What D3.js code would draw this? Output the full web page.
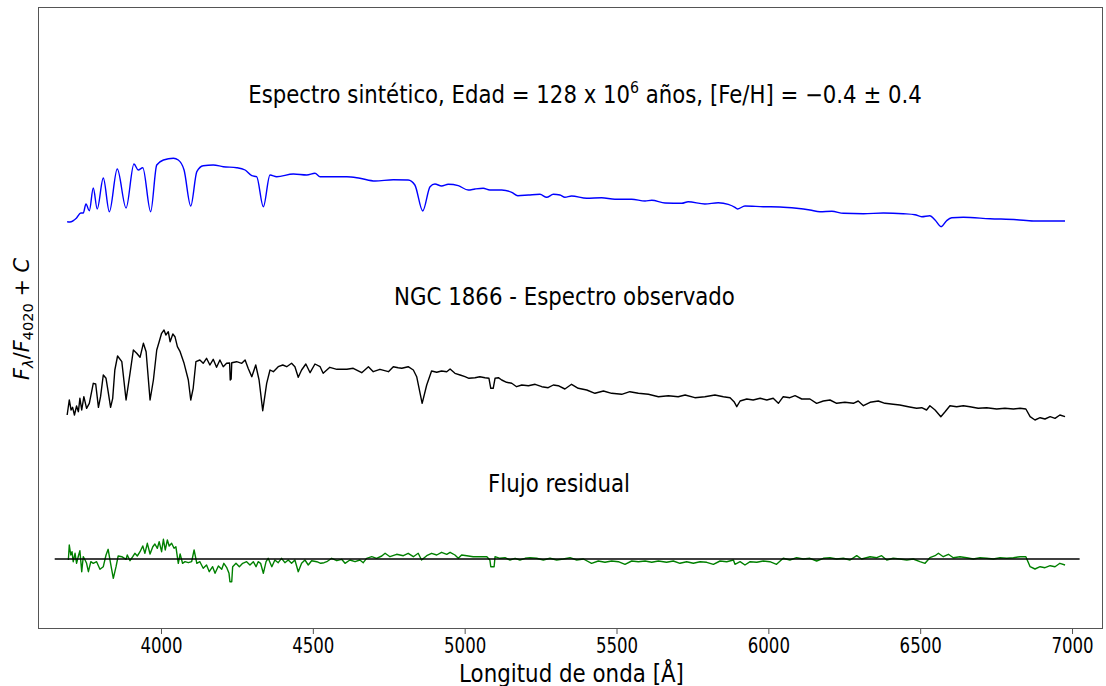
<!DOCTYPE html>
<html>
<head>
<meta charset="utf-8">
<script src="https://cdn.jsdelivr.net/npm/d3@7"></script>
<style>
  html, body { margin: 0; padding: 0; background: #fff; }
  svg { display: block; font-family: "DejaVu Sans", sans-serif; }
</style>
</head>
<body>
<div id="main-container"></div>
<script>
// Spectra: [wavelength (A), F/F4020 + C]
const SYNTH = [[3691,3.373],[3700,3.37],[3722,3.41],[3736,3.46],[3744,3.46],[3753,3.55],[3764,3.483],[3777,3.71],[3790,3.50],[3810,3.81],[3830,3.473],[3856,3.90],[3885,3.51],[3911,3.95],[3925,3.89],[3940,3.913],[3966,3.473],[3986,3.94],[4008,3.99],[4041,4.007],[4057,3.99],[4076,3.89],[4098,3.53],[4118,3.873],[4139,3.933],[4172,3.94],[4205,3.923],[4249,3.913],[4277,3.89],[4299,3.833],[4315,3.823],[4337,3.523],[4359,3.84],[4381,3.823],[4436,3.85],[4480,3.84],[4507,3.857],[4524,3.823],[4567,3.823],[4612,3.823],[4655,3.807],[4705,3.78],[4765,3.793],[4814,3.79],[4836,3.74],[4862,3.48],[4886,3.723],[4902,3.75],[4924,3.73],[4946,3.747],[4979,3.733],[5012,3.69],[5034,3.70],[5061,3.707],[5083,3.69],[5122,3.69],[5155,3.667],[5175,3.633],[5210,3.64],[5248,3.647],[5270,3.617],[5292,3.647],[5314,3.64],[5330,3.617],[5352,3.63],[5402,3.607],[5451,3.613],[5495,3.597],[5550,3.597],[5594,3.58],[5616,3.587],[5660,3.56],[5715,3.557],[5736,3.573],[5791,3.55],[5835,3.563],[5868,3.547],[5890,3.517],[5898,3.50],[5923,3.53],[5983,3.523],[6038,3.52],[6093,3.507],[6137,3.49],[6170,3.473],[6209,3.477],[6247,3.457],[6313,3.453],[6379,3.46],[6444,3.453],[6483,3.443],[6505,3.423],[6532,3.433],[6549,3.39],[6569,3.323],[6587,3.383],[6604,3.413],[6642,3.417],[6730,3.403],[6818,3.393],[6873,3.38],[6977,3.38]];

const OBSERVED = [[3691,1.44],[3698,1.59],[3704,1.49],[3709,1.517],[3715,1.44],[3722,1.53],[3728,1.473],[3733,1.607],[3739,1.49],[3746,1.623],[3755,1.507],[3764,1.557],[3777,1.757],[3785,1.75],[3794,1.517],[3801,1.623],[3810,1.84],[3819,1.807],[3826,1.673],[3834,1.517],[3841,1.607],[3848,1.89],[3857,2.03],[3871,1.973],[3885,1.59],[3898,1.857],[3909,2.09],[3920,2.057],[3931,2.017],[3942,2.157],[3951,2.073],[3964,1.59],[3975,1.79],[3986,2.09],[3994,2.173],[4002,2.257],[4010,2.29],[4016,2.24],[4024,2.273],[4030,2.173],[4039,2.25],[4046,2.223],[4054,2.123],[4063,2.073],[4076,1.957],[4090,1.79],[4098,1.59],[4106,1.707],[4115,1.973],[4128,1.99],[4139,1.957],[4150,2.007],[4161,1.94],[4172,1.997],[4183,1.917],[4194,1.99],[4205,1.923],[4216,1.957],[4226,1.96],[4228,1.79],[4231,1.80],[4233,1.963],[4249,1.973],[4266,1.957],[4277,1.99],[4287,1.907],[4299,1.823],[4312,1.94],[4323,1.79],[4335,1.483],[4348,1.757],[4359,1.89],[4370,1.873],[4386,1.923],[4401,1.94],[4414,1.923],[4430,1.957],[4441,1.923],[4452,1.817],[4463,1.89],[4477,1.95],[4491,1.863],[4507,1.95],[4524,1.923],[4534,1.857],[4556,1.917],[4579,1.897],[4612,1.897],[4633,1.907],[4661,1.863],[4683,1.923],[4699,1.873],[4721,1.897],[4749,1.873],[4765,1.923],[4781,1.913],[4793,1.907],[4814,1.923],[4831,1.89],[4842,1.823],[4860,1.557],[4875,1.74],[4891,1.88],[4908,1.867],[4924,1.88],[4941,1.873],[4952,1.9],[4968,1.857],[4985,1.84],[5001,1.823],[5014,1.807],[5034,1.813],[5050,1.823],[5067,1.813],[5080,1.807],[5086,1.707],[5094,1.707],[5100,1.807],[5111,1.813],[5122,1.79],[5138,1.767],[5155,1.757],[5171,1.723],[5188,1.74],[5210,1.733],[5232,1.747],[5254,1.723],[5275,1.713],[5292,1.74],[5308,1.733],[5330,1.70],[5352,1.747],[5374,1.707],[5402,1.69],[5429,1.657],[5457,1.68],[5484,1.657],[5517,1.647],[5544,1.673],[5572,1.657],[5605,1.647],[5638,1.623],[5671,1.633],[5703,1.623],[5726,1.64],[5758,1.613],[5791,1.623],[5824,1.64],[5852,1.623],[5874,1.613],[5887,1.573],[5896,1.523],[5907,1.58],[5929,1.60],[5950,1.59],[5973,1.607],[5995,1.59],[6016,1.607],[6033,1.557],[6049,1.623],[6071,1.613],[6088,1.633],[6110,1.60],[6137,1.60],[6159,1.557],[6181,1.58],[6203,1.59],[6225,1.557],[6252,1.567],[6280,1.557],[6296,1.58],[6313,1.533],[6335,1.567],[6362,1.58],[6384,1.557],[6411,1.547],[6433,1.54],[6461,1.523],[6488,1.507],[6505,1.513],[6521,1.49],[6532,1.533],[6549,1.49],[6568,1.423],[6582,1.473],[6598,1.533],[6620,1.523],[6642,1.533],[6664,1.523],[6691,1.507],[6719,1.513],[6752,1.50],[6779,1.507],[6807,1.50],[6829,1.507],[6848,1.50],[6862,1.423],[6878,1.39],[6895,1.413],[6911,1.40],[6928,1.423],[6944,1.407],[6960,1.44],[6977,1.423]];

const RESIDUAL = [[3695,-0.01],[3698,0.14],[3703,0.04],[3707,0.073],[3711,-0.027],[3717,0.057],[3722,-0.043],[3728,0.03],[3733,0.083],[3739,-0.127],[3744,0.023],[3750,-0.01],[3755,-0.043],[3761,-0.127],[3769,-0.027],[3777,-0.043],[3788,-0.027],[3799,-0.103],[3810,-0.077],[3819,0.04],[3826,0.097],[3834,-0.043],[3843,-0.193],[3852,-0.077],[3859,0.03],[3871,0.023],[3885,-0.003],[3889,0.04],[3898,-0.017],[3907,0.023],[3914,0.057],[3922,0.03],[3931,0.073],[3940,0.13],[3947,0.057],[3955,0.157],[3964,0.05],[3973,0.123],[3980,0.15],[3988,0.107],[3994,0.173],[4002,0.073],[4008,0.197],[4014,0.09],[4021,0.19],[4027,0.13],[4035,0.157],[4043,0.107],[4049,0.123],[4057,-0.043],[4063,0.05],[4071,-0.043],[4079,-0.027],[4090,-0.037],[4101,-0.027],[4109,0.09],[4118,-0.043],[4128,-0.027],[4139,-0.093],[4150,-0.06],[4159,-0.127],[4170,-0.077],[4178,-0.143],[4189,-0.07],[4200,-0.103],[4207,-0.043],[4216,-0.083],[4224,-0.143],[4227,-0.227],[4233,-0.227],[4236,-0.077],[4247,-0.043],[4258,-0.077],[4269,-0.043],[4282,-0.027],[4293,-0.06],[4304,-0.027],[4313,-0.077],[4320,-0.027],[4328,-0.043],[4337,-0.143],[4346,-0.027],[4353,0.007],[4365,-0.077],[4375,-0.01],[4386,-0.037],[4397,0.007],[4408,-0.037],[4419,-0.01],[4430,-0.043],[4441,-0.01],[4452,-0.127],[4463,-0.043],[4474,-0.01],[4485,-0.06],[4496,-0.017],[4513,-0.027],[4526,-0.043],[4537,-0.037],[4546,-0.027],[4562,0.007],[4579,-0.017],[4595,-0.003],[4606,-0.043],[4622,-0.01],[4639,-0.027],[4655,-0.01],[4666,-0.037],[4677,0.007],[4694,0.023],[4710,0.007],[4727,0.03],[4738,0.057],[4754,0.023],[4776,0.047],[4798,0.033],[4814,0.057],[4831,0.023],[4847,0.057],[4858,-0.01],[4875,0.033],[4891,0.057],[4908,0.04],[4924,0.067],[4941,0.047],[4952,0.067],[4968,0.04],[4979,0.007],[4990,0.04],[5007,0.033],[5028,0.023],[5050,0.023],[5073,0.023],[5083,-0.01],[5086,-0.077],[5097,-0.077],[5100,0.023],[5116,0.007],[5133,0.013],[5149,-0.01],[5166,0.007],[5182,-0.01],[5199,0.007],[5215,0.013],[5237,0.007],[5259,-0.01],[5281,0.007],[5303,-0.01],[5325,0.0],[5347,0.013],[5369,-0.01],[5391,0.0],[5418,-0.043],[5440,-0.02],[5462,-0.033],[5484,-0.02],[5506,-0.027],[5528,-0.053],[5550,-0.02],[5572,-0.027],[5594,-0.02],[5616,-0.033],[5638,-0.02],[5665,-0.033],[5687,-0.02],[5709,-0.043],[5731,-0.027],[5753,-0.043],[5775,-0.027],[5797,-0.033],[5819,-0.053],[5841,-0.02],[5863,-0.027],[5885,-0.01],[5890,-0.053],[5907,-0.027],[5923,-0.06],[5940,-0.027],[5962,-0.033],[5983,-0.02],[6005,-0.027],[6027,-0.053],[6049,0.007],[6071,-0.01],[6093,0.013],[6115,0.0],[6137,0.007],[6159,-0.02],[6181,0.007],[6203,0.013],[6225,0.0],[6247,0.007],[6269,-0.01],[6291,0.033],[6307,0.0],[6335,0.023],[6357,0.013],[6373,0.033],[6390,-0.01],[6411,0.007],[6433,0.0],[6456,-0.01],[6477,0.0],[6499,-0.027],[6516,-0.043],[6532,0.013],[6549,0.033],[6560,0.057],[6576,0.023],[6593,0.047],[6609,0.013],[6631,0.023],[6653,0.013],[6675,0.0],[6697,0.013],[6719,0.007],[6741,0.0],[6763,0.013],[6785,0.007],[6807,0.013],[6829,0.023],[6848,0.023],[6862,-0.077],[6878,-0.10],[6895,-0.077],[6911,-0.087],[6928,-0.067],[6944,-0.077],[6960,-0.043],[6977,-0.06]];

const ZERO_LINE = [[3650, 0], [7025, 0]];
const X_TICKS = [4000, 4500, 5000, 5500, 6000, 6500, 7000];
const X_DOMAIN = [3595, 7102];
const Y_DOMAIN = [-0.70, 5.52];

const SVG_WIDTH = 1106;
const SVG_HEIGHT = 686;
const PLOT = { left: 38, right: 1103, top: 7, bottom: 629 };
const FRAME_COLOR = '#555';

const SVG = d3.select('#main-container').append('svg')
    .attr('width', SVG_WIDTH)
    .attr('height', SVG_HEIGHT);

const x = d3.scaleLinear().domain(X_DOMAIN).range([PLOT.left, PLOT.right]);
const y = d3.scaleLinear().domain(Y_DOMAIN).range([PLOT.bottom, PLOT.top]);

// squeeze a text to a measured width, centred on cx
function placeText(sel, cx, cy, width) {
    const w = sel.node().getComputedTextLength();
    sel.attr('text-anchor', 'middle')
        .attr('transform', `translate(${cx},${cy}) scale(${width / w},1)`);
    return sel;
}

// spectra
const smoothLine = d3.line().x(d => x(d[0])).y(d => y(d[1])).curve(d3.curveMonotoneX);
const rawLine = d3.line().x(d => x(d[0])).y(d => y(d[1]));

SVG.append('path').datum(SYNTH)
    .attr('d', smoothLine)
    .attr('fill', 'none')
    .attr('stroke', '#0000ff')
    .attr('stroke-width', 1.4);

SVG.append('path').datum(OBSERVED)
    .attr('d', rawLine)
    .attr('fill', 'none')
    .attr('stroke', '#000')
    .attr('stroke-width', 1.4)
    .attr('stroke-linejoin', 'round');

SVG.append('path').datum(RESIDUAL)
    .attr('d', rawLine)
    .attr('fill', 'none')
    .attr('stroke', '#008000')
    .attr('stroke-width', 1.4)
    .attr('stroke-linejoin', 'round');

SVG.append('path').datum(ZERO_LINE)
    .attr('d', rawLine)
    .attr('stroke', '#000')
    .attr('stroke-width', 1.5);

// frame
SVG.append('rect')
    .attr('x', PLOT.left + 0.5)
    .attr('y', PLOT.top + 0.5)
    .attr('width', PLOT.right - PLOT.left - 1)
    .attr('height', PLOT.bottom - PLOT.top - 1)
    .attr('fill', 'none')
    .attr('stroke', FRAME_COLOR)
    .attr('stroke-width', 1);

// x axis
const xAxis = SVG.append('g')
    .attr('transform', `translate(0,${PLOT.bottom})`)
    .call(d3.axisBottom(x).tickValues(X_TICKS).tickSize(5).tickFormat(d3.format('d')));
xAxis.select('.domain').remove();
xAxis.selectAll('.tick line').attr('stroke', FRAME_COLOR);
xAxis.selectAll('.tick text')
    .attr('y', null).attr('dy', null)
    .attr('fill', '#000')
    .style('font-family', '"DejaVu Sans", sans-serif')
    .style('font-size', '21px')
    .attr('transform', 'translate(0,24) scale(0.79,1)');

// labels inside the plot
const title = SVG.append('text').style('font-size', '24px');
title.append('tspan').text('Espectro sintético, Edad = 128 x 10');
title.append('tspan').attr('dy', -10).style('font-size', '16px').text('6');
title.append('tspan').attr('dy', 10).text(' años, [Fe/H] = −0.4 ± 0.4');
placeText(title, 585, 103, 674);

placeText(SVG.append('text').style('font-size', '24px').text('NGC 1866 - Espectro observado'), 564.5, 305, 341);
placeText(SVG.append('text').style('font-size', '24px').text('Flujo residual'), 559, 492, 142);

// axis titles
placeText(SVG.append('text').style('font-size', '24px').text('Longitud de onda [Å]'), 571.5, 682, 225);

const yLabel = SVG.append('text').style('font-size', '24px').attr('text-anchor', 'middle');
yLabel.append('tspan').style('font-style', 'italic').text('F');
yLabel.append('tspan').attr('dy', 5).style('font-size', '17px').style('font-style', 'italic').text('λ');
yLabel.append('tspan').attr('dy', -5).text('/');
yLabel.append('tspan').style('font-style', 'italic').text('F');
yLabel.append('tspan').attr('dy', 5).style('font-size', '17px').text('4020');
yLabel.append('tspan').attr('dy', -5).text(' + ');
yLabel.append('tspan').style('font-style', 'italic').text('C');
const yw = yLabel.node().getComputedTextLength();
yLabel.attr('transform', `translate(29,319) rotate(-90) scale(${122 / yw},0.85)`);
</script>
</body>
</html>
